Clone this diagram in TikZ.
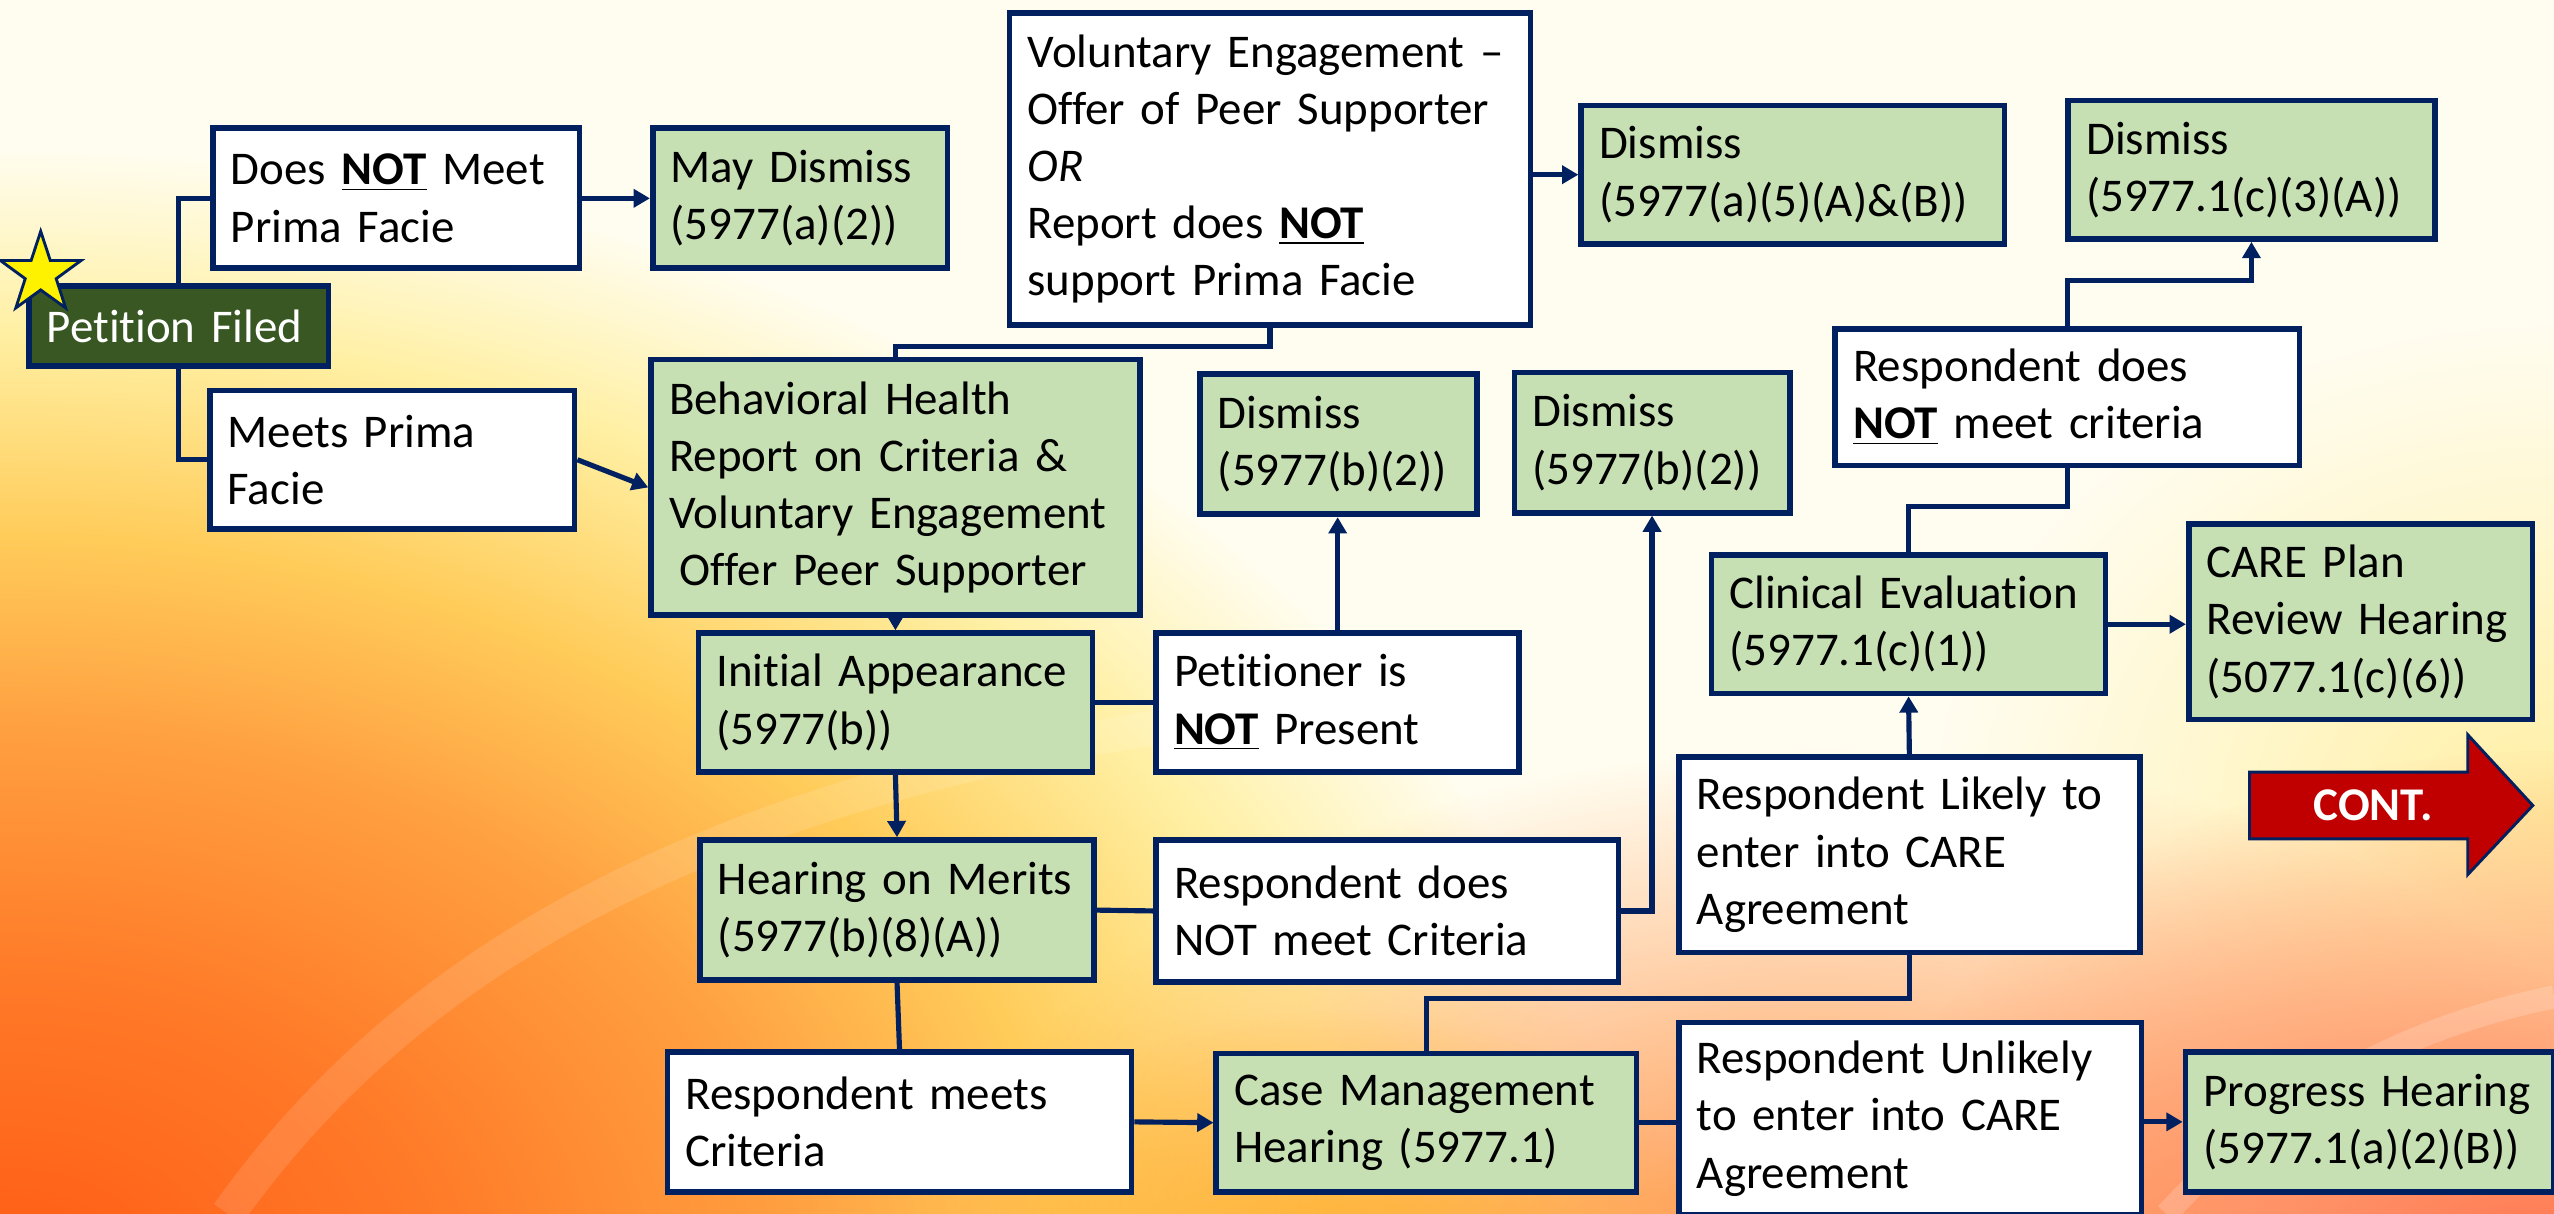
\documentclass[tikz,border=0pt]{standalone}
\usepackage{fontspec}
\setmainfont{Carlito}[Ligatures={NoCommon}]
\usetikzlibrary{arrows.meta,shapes.geometric,fadings}

\definecolor{navy}{HTML}{002060}
\definecolor{boxgreen}{HTML}{C6E0B4}
\definecolor{filedgreen}{HTML}{385723}
\definecolor{contred}{HTML}{C00000}
\definecolor{bgcream}{HTML}{FFFDF0}
\definecolor{bgyellow}{HTML}{FFF0A4}
\definecolor{bggold}{HTML}{FFCC5A}
\definecolor{bgorange}{HTML}{FFA040}
\definecolor{bgred}{HTML}{FF7A28}
\definecolor{bgdeep}{HTML}{FF5A14}
\definecolor{bgsalmon}{HTML}{FF7048}
\definecolor{bgmid}{HTML}{FF8530}
\definecolor{bgamber}{HTML}{FFB020}

\pgfdeclareradialshading{bgglow}{\pgfpoint{0bp}{0bp}}{%
  color(0bp)=(bgdeep); color(6.75bp)=(bgred); color(12.25bp)=(bgorange);
  color(16.5bp)=(bggold); color(21bp)=(bgyellow); color(25bp)=(bgcream); color(50bp)=(bgcream)}
\tikzfading[name=softblob, inner color=transparent!0, outer color=transparent!100]

\newcommand{\notul}{\textbf{\underline{NOT}}}

\tikzset{
  box/.style={draw=navy, line width=2pt, anchor=north west, inner xsep=0.22cm,
    inner ysep=0pt, align=left, font=\fontsize{16.4}{20}\selectfont},
  greenbox/.style={box, fill=boxgreen},
  whitebox/.style={box, fill=white},
  filedbox/.style={box, fill=filedgreen, text=white},
  conn/.style={draw=navy, line width=1.8pt},
  arr/.style={conn, -{Triangle[length=0.2cm,width=0.22cm]}},
  blob/.style={path fading=softblob},
}

\begin{document}
\begin{tikzpicture}[x=0.02cm, y=-0.02cm]
\useasboundingbox (0,0) rectangle (1568,745.3);

% background
\begin{scope}
\clip (0,0) rectangle (1568,745.3);
\fill[bgcream] (0,0) rectangle (1568,745.3);
\shade[shading=bgglow] (0,790) ellipse [x radius=1000, y radius=700];
\fill[bgyellow, blob] (1568,500) ellipse [x radius=380, y radius=300];
\fill[bgmid, blob] (1120,820) ellipse [x radius=560, y radius=360];
\fill[bgsalmon, blob] (1568,790) ellipse [x radius=440, y radius=330];
\fill[bgamber, blob, opacity=0.8] (820,790) ellipse [x radius=240, y radius=170];
\draw[white, opacity=0.12, line width=12pt] (140,745.3) .. controls (250,590) and (430,490) .. (720,445);
\draw[white, opacity=0.18, line width=8pt] (1330,745.3) .. controls (1400,670) and (1480,630) .. (1568,612);
\end{scope}

% boxes
\node[filedbox, minimum width=3.68cm, minimum height=0.98cm, text width=3.24cm] (petition) at (16,174) {Petition Filed};
\node[star, star points=5, star point ratio=2.6, minimum size=1.04cm, inner sep=0pt,
  fill=yellow, draw=navy, line width=1pt] (star) at (25,168) {};
\node[whitebox, minimum width=4.50cm, minimum height=1.72cm, text width=4.06cm] (doesnot) at (129,77) {Does \notul{} Meet\\Prima Facie};
\node[greenbox, minimum width=3.62cm, minimum height=1.72cm, text width=3.18cm] (maydis) at (399,77) {May Dismiss\\(5977(a)(2))};
\node[whitebox, minimum width=6.40cm, minimum height=3.84cm, text width=5.96cm] (vol) at (618,6) {Voluntary Engagement –\\Offer of Peer Supporter\\\textit{OR}\\Report does \notul\\support Prima Facie};
\node[greenbox, minimum width=5.20cm, minimum height=1.70cm, text width=4.76cm] (disa5) at (969,63) {Dismiss\\(5977(a)(5)(A)\&(B))};
\node[greenbox, minimum width=4.50cm, minimum height=1.70cm, text width=4.06cm] (disc3) at (1268,60) {Dismiss\\(5977.1(c)(3)(A))};
\node[whitebox, minimum width=5.70cm, minimum height=1.68cm, text width=5.26cm] (respnotc) at (1125,200) {Respondent does\\\notul{} meet criteria};
\node[whitebox, minimum width=4.48cm, minimum height=1.70cm, text width=4.04cm] (meets) at (127,238) {Meets Prima\\Facie};
\node[greenbox, minimum width=6.00cm, minimum height=3.14cm, text width=5.56cm] (behav) at (398,219) {Behavioral Health\\Report on Criteria \&\\Voluntary Engagement\\\hspace{0.23em}Offer Peer Supporter};
\node[greenbox, minimum width=3.40cm, minimum height=1.72cm, text width=2.96cm] (disb2a) at (735,228) {Dismiss\\(5977(b)(2))};
\node[greenbox, minimum width=3.38cm, minimum height=1.72cm, text width=2.94cm] (disb2b) at (928,227) {Dismiss\\(5977(b)(2))};
\node[greenbox, minimum width=4.84cm, minimum height=1.70cm, text width=4.40cm] (clinical) at (1049,339) {Clinical Evaluation\\(5977.1(c)(1))};
\node[greenbox, minimum width=4.22cm, minimum height=2.40cm, text width=3.78cm] (careplan) at (1342,320) {CARE Plan\\Review Hearing\\(5077.1(c)(6))};
\node[greenbox, minimum width=4.84cm, minimum height=1.70cm, text width=4.40cm] (initial) at (427,387) {Initial Appearance\\(5977(b))};
\node[whitebox, minimum width=4.46cm, minimum height=1.70cm, text width=4.02cm] (petnot) at (708,387) {Petitioner is\\\notul{} Present};
\node[greenbox, minimum width=4.84cm, minimum height=1.72cm, text width=4.40cm] (merits) at (428,514) {Hearing on Merits\\(5977(b)(8)(A))};
\node[whitebox, minimum width=5.68cm, minimum height=1.74cm, text width=5.24cm] (respnot) at (708,514) {Respondent does\\NOT meet Criteria};
\node[whitebox, minimum width=5.66cm, minimum height=2.40cm, text width=5.22cm] (likely) at (1029,463) {Respondent Likely to\\enter into CARE\\Agreement};
\node[whitebox, minimum width=5.70cm, minimum height=1.72cm, text width=5.26cm] (respmeets) at (408,644) {Respondent meets\\Criteria};
\node[greenbox, minimum width=5.16cm, minimum height=1.70cm, text width=4.72cm] (casemgmt) at (745,645) {Case Management\\Hearing (5977.1)};
\node[whitebox, minimum width=5.68cm, minimum height=2.36cm, text width=5.24cm] (unlikely) at (1029,626) {Respondent Unlikely\\to enter into CARE\\Agreement};
\node[greenbox, minimum width=4.52cm, minimum height=1.72cm, text width=4.08cm] (progress) at (1340,644) {Progress Hearing\\(5977.1(a)(2)(B))};

% continue arrow
\draw[fill=contred, draw=navy, line width=1pt] (1381,474) -- (1515,474) -- (1515,451) -- (1555,494.5)
  -- (1515,537) -- (1515,515) -- (1381,515) -- cycle;
\node[text=white, font=\fontsize{16.4}{19}\selectfont\bfseries] (cont) at (1457,494.5) {CONT.};

% connectors
\draw[conn] (petition.north) |- (doesnot.west);
\draw[conn] (petition.south) |- (meets.west);
\draw[arr] (doesnot.east) -- (maydis.west);
\draw[arr] (meets.east) -- (behav.west);
\draw[conn] (vol.south) -- ++(0,11) -| (behav.north);
\draw[arr] (vol.east |- disa5.west) -- (disa5.west);
\draw[arr] (behav.south) -- (initial.north);
\draw[conn] (initial.east) -- (petnot.west);
\draw[arr] (petnot.north) -- (petnot.north |- disb2a.south);
\draw[arr] (initial.south) -- (merits.north);
\draw[conn] (merits.east) -- (respnot.west);
\draw[arr] (respnot.east) -| (disb2b.south);
\draw[conn] (merits.south) -- (respmeets.north);
\draw[arr] (respmeets.east) -- (casemgmt.west);
\draw[conn] (casemgmt.east) -- (casemgmt.east -| unlikely.west);
\draw[arr] (unlikely.east |- progress.west) -- (progress.west);
\draw[conn] (casemgmt.north) -- ++(0,-32) -| (likely.south);
\draw[arr] (likely.north) -- (clinical.south);
\draw[conn] (clinical.north) -- ++(0,-28) -| (respnotc.south);
\draw[arr] (respnotc.north) -- ++(0,-28) -| (disc3.south);
\draw[arr] (clinical.east) -- (clinical.east -| careplan.west);
\end{tikzpicture}
\end{document}
